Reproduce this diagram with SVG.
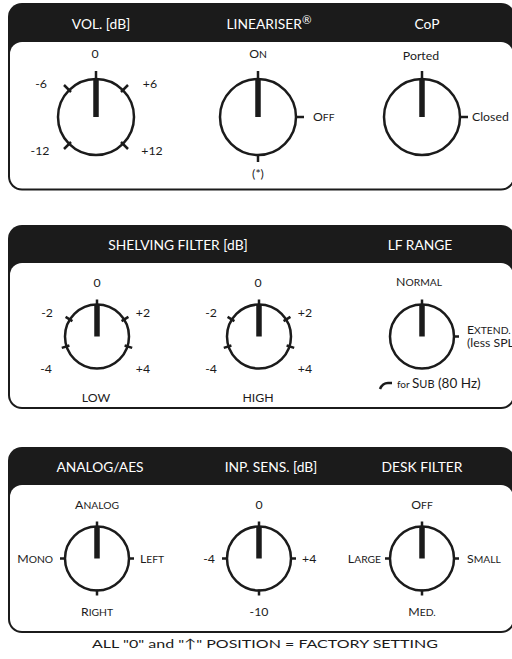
<svg xmlns="http://www.w3.org/2000/svg" width="512" height="659" viewBox="0 0 512 659">
<style>
.panel{fill:#1b1b1b}
.inner{fill:#ffffff}
.hd{font-family:Lato,"Liberation Sans",sans-serif;font-size:13.8px;fill:#ffffff;text-anchor:middle}
.lb{font-family:Lato,"Liberation Sans",sans-serif;font-size:12.3px;fill:#1b1b1b}
.m{text-anchor:middle}
.e{text-anchor:end}
.sc{font-size:10.3px}
.ring{fill:none;stroke:#1b1b1b;stroke-width:2.5}
.tk{stroke:#1b1b1b;stroke-width:2.5;fill:none}
.ptr{fill:#1b1b1b}
</style>
<defs>
<g id="knobL">
<circle class="ring" r="38"/>
<rect class="ptr" x="-2.75" y="-38" width="5.5" height="38"/>
<line class="tk" x1="0" y1="-46" x2="0" y2="-36" stroke-width="3"/>
</g>
<g id="knobS">
<circle class="ring" r="32"/>
<rect class="ptr" x="-2.75" y="-32" width="5.5" height="32"/>
<line class="tk" x1="0" y1="-37" x2="0" y2="-30" stroke-width="3"/>
</g>
</defs>

<!-- Panels -->
<g id="panel1">
<rect class="panel" x="8" y="3" width="507" height="187.5" rx="14"/>
<rect class="inner" x="10" y="42" width="503" height="146.5" rx="12"/>
<text class="hd" x="101" y="29">VOL. [dB]</text>
<text class="hd" x="269" y="29">LINEARISER<tspan font-size="11.5" dy="-5">®</tspan></text>
<text class="hd" x="427" y="29">CoP</text>
</g>
<g id="panel2">
<rect class="panel" x="8" y="225" width="507" height="184" rx="14"/>
<rect class="inner" x="10" y="263" width="503" height="144" rx="12"/>
<text class="hd" x="178" y="250">SHELVING FILTER [dB]</text>
<text class="hd" x="420" y="250">LF RANGE</text>
</g>
<g id="panel3">
<rect class="panel" x="8" y="447" width="507" height="186" rx="14"/>
<rect class="inner" x="10" y="485" width="503" height="146" rx="12"/>
<text class="hd" x="100" y="472">ANALOG/AES</text>
<text class="hd" x="271" y="472">INP. SENS. [dB]</text>
<text class="hd" x="422" y="472">DESK FILTER</text>
</g>

<!-- Knobs -->
<g id="knob-vol">
<g transform="translate(96,117)">
<use href="#knobL"/>
<line class="tk" x1="-25" y1="-25" x2="-32" y2="-32"/>
<line class="tk" x1="25" y1="-25" x2="32" y2="-32"/>
<line class="tk" x1="-25" y1="25" x2="-32" y2="32"/>
<line class="tk" x1="25" y1="25" x2="32" y2="32"/>
</g>
<text class="lb m" x="95" y="58">0</text>
<text class="lb m" x="41" y="88">-6</text>
<text class="lb m" x="150" y="88">+6</text>
<text class="lb m" x="40" y="155">-12</text>
<text class="lb m" x="152" y="155">+12</text>
</g>

<g id="knob-lin">
<g transform="translate(258,117)">
<use href="#knobL"/>
<line class="tk" x1="37" y1="0" x2="46" y2="0"/>
<line class="tk" x1="0" y1="37" x2="0" y2="45"/>
</g>
<text class="lb m" x="258" y="58">O<tspan class="sc">N</tspan></text>
<text class="lb" x="313" y="121">O<tspan class="sc">FF</tspan></text>
<text class="lb m" x="258" y="178">(*)</text>
</g>

<g id="knob-cop">
<g transform="translate(422,117)">
<use href="#knobL"/>
<line class="tk" x1="37" y1="0" x2="46" y2="0"/>
</g>
<text class="lb m" x="421" y="60">Ported</text>
<text class="lb" x="472" y="121">Closed</text>
</g>

<g id="knob-low">
<g transform="translate(97,336.5)">
<use href="#knobS"/>
<line class="tk" x1="-24.6" y1="-15.4" x2="-31.4" y2="-19.6"/>
<line class="tk" x1="24.6" y1="-15.4" x2="31.4" y2="-19.6"/>
<line class="tk" x1="-27.6" y1="9" x2="-35.2" y2="11.4"/>
<line class="tk" x1="27.6" y1="9" x2="35.2" y2="11.4"/>
</g>
<text class="lb m" x="97" y="287">0</text>
<text class="lb m" x="47" y="317">-2</text>
<text class="lb m" x="143" y="317">+2</text>
<text class="lb m" x="46" y="373">-4</text>
<text class="lb m" x="143" y="373">+4</text>
<text class="lb m" x="96" y="402">LOW</text>
</g>

<g id="knob-high">
<g transform="translate(259,336.5)">
<use href="#knobS"/>
<line class="tk" x1="-24.6" y1="-15.4" x2="-31.4" y2="-19.6"/>
<line class="tk" x1="24.6" y1="-15.4" x2="31.4" y2="-19.6"/>
<line class="tk" x1="-27.6" y1="9" x2="-35.2" y2="11.4"/>
<line class="tk" x1="27.6" y1="9" x2="35.2" y2="11.4"/>
</g>
<text class="lb m" x="258" y="287">0</text>
<text class="lb m" x="211" y="317">-2</text>
<text class="lb m" x="305" y="317">+2</text>
<text class="lb m" x="211" y="373">-4</text>
<text class="lb m" x="305" y="373">+4</text>
<text class="lb m" x="258" y="402">HIGH</text>
</g>

<g id="knob-lf">
<g transform="translate(422,336.5)">
<use href="#knobS"/>
<line class="tk" x1="31" y1="0" x2="37" y2="0"/>
</g>
<text class="lb m" x="419" y="286">N<tspan class="sc">ORMAL</tspan></text>
<text class="lb" x="467" y="333.5">E<tspan class="sc">XTEND.</tspan></text>
<text class="lb" x="467" y="347" font-size="8.3">(less SPL)</text>
<path class="tk" stroke-width="1.5" d="M380,389 Q382.5,383 388,383 L392,383"/>
<text class="lb" x="397" y="388"><tspan font-size="10">for </tspan><tspan font-size="13.5">S</tspan><tspan font-size="11">UB</tspan><tspan font-size="13.5"> (80 Hz)</tspan></text>
</g>

<g id="knob-aes">
<g transform="translate(97,558.5)">
<use href="#knobS"/>
<line class="tk" x1="31" y1="0" x2="37" y2="0"/>
<line class="tk" x1="-31" y1="0" x2="-37" y2="0"/>
<line class="tk" x1="0" y1="31" x2="0" y2="37"/>
</g>
<text class="lb m" x="97" y="509">A<tspan class="sc">NALOG</tspan></text>
<text class="lb e" x="53" y="563">M<tspan class="sc">ONO</tspan></text>
<text class="lb" x="140" y="563">L<tspan class="sc">EFT</tspan></text>
<text class="lb m" x="97" y="616">R<tspan class="sc">IGHT</tspan></text>
</g>

<g id="knob-sens">
<g transform="translate(259,558.5)">
<use href="#knobS"/>
<line class="tk" x1="31" y1="0" x2="37" y2="0"/>
<line class="tk" x1="-31" y1="0" x2="-37" y2="0"/>
<line class="tk" x1="0" y1="31" x2="0" y2="37"/>
</g>
<text class="lb m" x="259" y="509">0</text>
<text class="lb e" x="215" y="563">-4</text>
<text class="lb" x="302" y="563">+4</text>
<text class="lb m" x="259" y="616">-10</text>
</g>

<g id="knob-desk">
<g transform="translate(422,558.5)">
<use href="#knobS"/>
<line class="tk" x1="31" y1="0" x2="37" y2="0"/>
<line class="tk" x1="-31" y1="0" x2="-37" y2="0"/>
<line class="tk" x1="0" y1="31" x2="0" y2="37"/>
</g>
<text class="lb m" x="422" y="509">O<tspan class="sc">FF</tspan></text>
<text class="lb e" x="381" y="563">L<tspan class="sc">ARGE</tspan></text>
<text class="lb" x="467" y="563">S<tspan class="sc">MALL</tspan></text>
<text class="lb m" x="422" y="616">M<tspan class="sc">ED.</tspan></text>
</g>

<g id="connectors"></g>

<text class="lb" x="92" y="648" font-size="16" textLength="346" lengthAdjust="spacingAndGlyphs">ALL "0" and "↑" POSITION = FACTORY SETTING</text>
</svg>
